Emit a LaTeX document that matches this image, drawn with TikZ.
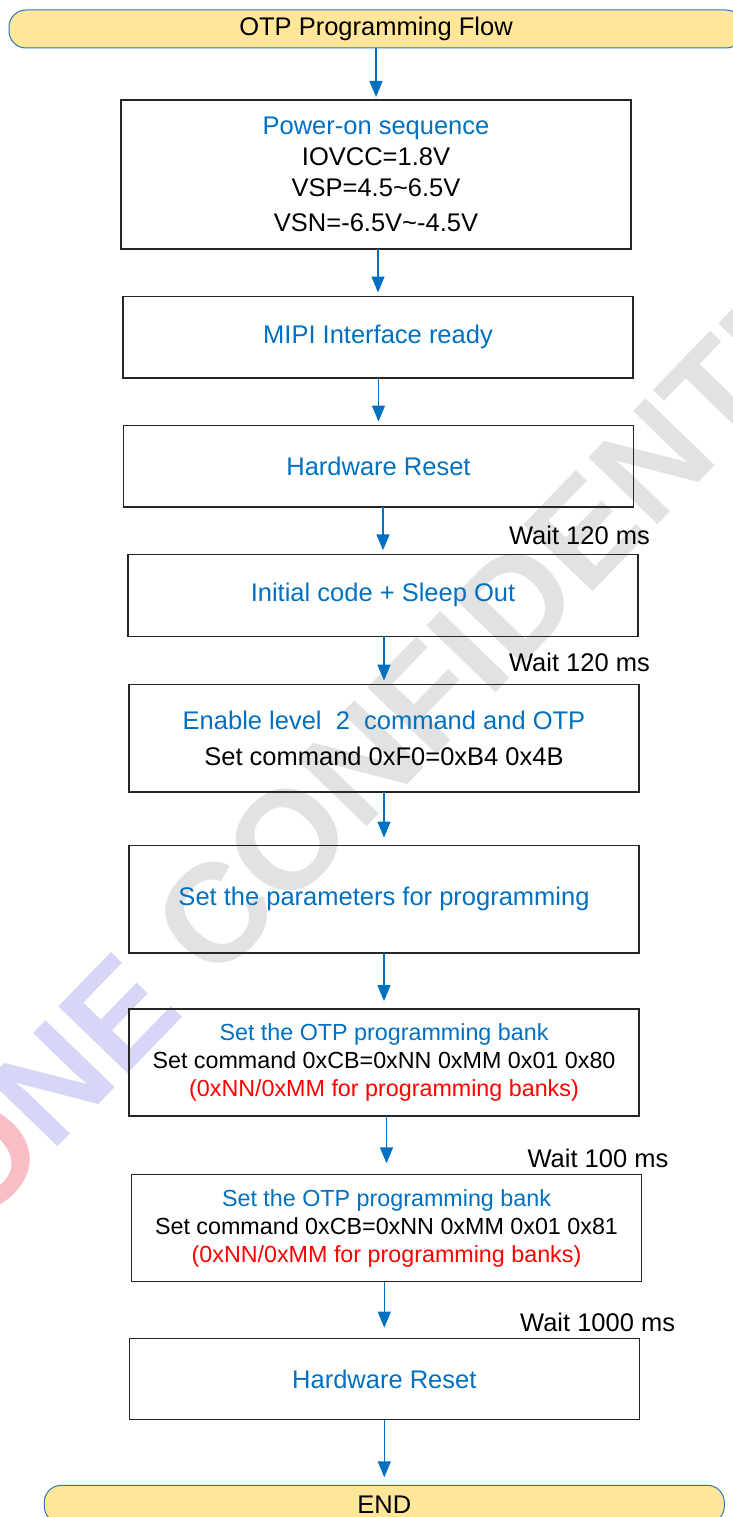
\documentclass[tikz,border=0pt]{standalone}
\usepackage{fontspec}
\setmainfont{Liberation Sans}
\usetikzlibrary{arrows.meta,positioning}

\definecolor{flowblue}{RGB}{0,112,192}
\definecolor{termfill}{RGB}{255,230,153}
\definecolor{termline}{RGB}{46,117,182}
\definecolor{wmgray}{RGB}{226,226,226}
\definecolor{wmlav}{RGB}{214,214,246}
\definecolor{wmpink}{RGB}{248,190,198}

\newcommand\bodyfont{\fontsize{25.5}{31}\selectfont}
\newcommand\bankfont{\fontsize{23.3}{28}\selectfont}
\newcommand\wmfont{\fontsize{140}{140}\selectfont\bfseries}

\begin{document}
\begin{tikzpicture}[x=1pt,y=1pt,
    stepbox/.style={draw=black!85,line width=1.2pt,align=center,outer sep=0pt,
                    minimum width=510pt,inner sep=0pt,font=\bodyfont},
    term/.style={draw=termline,fill=termfill,line width=1pt,rounded corners=17pt,
                 minimum height=38pt,inner sep=0pt,outer sep=0pt,font=\bodyfont},
    flow/.style={draw=flowblue,line width=1.5pt,
                 -{Triangle[length=16pt,width=13pt]},shorten >=4pt},
    waitlbl/.style={font=\bodyfont,inner sep=0pt,anchor=base east},
  ]
    \useasboundingbox (0,0) rectangle (733,-1517);

    % watermark behind everything
    \begin{scope}
      \clip (0,0) rectangle (733,-1517);
      \node[rotate=46,anchor=base west,inner sep=0pt,text=wmgray,font=\wmfont]
        (wmtext) at (214,-985) {CONFIDENTIAL};
      \node[rotate=46,anchor=base east,inner sep=0pt,text=wmlav,font=\wmfont]
        (wmname) at (187,-1013) {\textcolor{wmpink}{O}NE};
    \end{scope}

    \node[term,minimum width=734pt] (start) at (376,-29) {OTP Programming Flow};
    \node[stepbox,minimum height=149pt,below=52pt of start] (power)
      {\textcolor{flowblue}{Power-on sequence}\\IOVCC=1.8V\\VSP=4.5\textasciitilde6.5V\\[3.5pt]
       VSN=-6.5V\textasciitilde-4.5V};
    \node[stepbox,minimum height=81.5pt,below=47.5pt of power,xshift=2pt,text=flowblue] (mipi)
      {MIPI Interface ready};
    \node[stepbox,minimum height=81.5pt,below=47.5pt of mipi,xshift=0.5pt,text=flowblue] (reset1)
      {Hardware Reset};
    \node[stepbox,minimum height=82pt,below=47.3pt of reset1,xshift=4.5pt,text=flowblue] (init)
      {Initial code + Sleep Out};
    \node[stepbox,minimum height=107.4pt,below=48.3pt of init,xshift=1pt] (level2)
      {\textcolor{flowblue}{Enable level\ \ 2\ \ command and OTP}\\[5.5pt]
       Set command 0xF0=0xB4 0x4B};
    \node[stepbox,minimum height=107.4pt,below=53.6pt of level2,text=flowblue] (params)
      {Set the parameters for programming};
    \node[stepbox,minimum height=107pt,below=56pt of params,font=\bankfont] (bank1)
      {\textcolor{flowblue}{Set the OTP programming bank}\\
       Set command 0xCB=0xNN 0xMM 0x01 0x80\\
       \textcolor{red}{(0xNN/0xMM for programming banks)}};
    \node[stepbox,minimum height=107.5pt,below=58.3pt of bank1,xshift=2.5pt,font=\bankfont] (bank2)
      {\textcolor{flowblue}{Set the OTP programming bank}\\
       Set command 0xCB=0xNN 0xMM 0x01 0x81\\
       \textcolor{red}{(0xNN/0xMM for programming banks)}};
    \node[stepbox,minimum height=81pt,below=56.8pt of bank2,xshift=-2.2pt,text=flowblue] (reset2)
      {Hardware Reset};
    \node[term,minimum width=680pt,below=65.7pt of reset2] (stop) {END};

    % delays
    \node[waitlbl] (wait1) at ([shift={(12pt,10pt)}]init.north east) {Wait 120 ms};
    \node[waitlbl] (wait2) at ([shift={(11pt,13pt)}]level2.north east) {Wait 120 ms};
    \node[waitlbl] (wait3) at ([shift={(27pt,7pt)}]bank2.north east) {Wait 100 ms};
    \node[waitlbl] (wait4) at ([shift={(36pt,7pt)}]reset2.north east) {Wait 1000 ms};

    \draw[flow,shorten >=3pt] (start.south -| power) -- (power);
    \draw[flow] (power.south -| mipi) -- (mipi);
    \draw[flow] (mipi.south -| reset1) -- (reset1);
    \draw[flow] (reset1.south -| init) -- (init);
    \draw[flow] (init.south -| level2) -- (level2);
    \draw[flow,shorten >=8pt] (level2.south -| params) -- (params);
    \draw[flow,shorten >=8pt] (params.south -| bank1) -- (bank1);
    \draw[flow,shorten >=11pt] (bank1.south -| bank2) -- (bank2);
    \draw[flow,shorten >=11pt] (bank2.south -| reset2) -- (reset2);
    \draw[flow,shorten >=8pt] (reset2.south -| stop) -- (stop);
  \end{tikzpicture}
\end{document}
